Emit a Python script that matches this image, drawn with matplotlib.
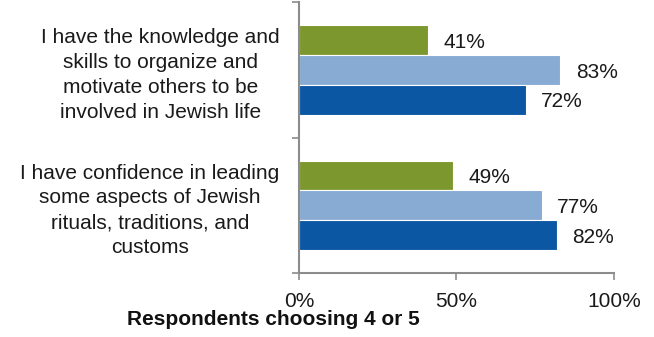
import matplotlib
matplotlib.use("Agg")
import matplotlib.pyplot as plt
import numpy as np

plt.rcParams['font.family'] = ['Liberation Sans', 'DejaVu Sans']

categories = [
    "I have the knowledge and\nskills to organize and\nmotivate others to be\ninvolved in Jewish life",
    "I have confidence in leading\nsome aspects of Jewish\nrituals, traditions, and\ncustoms",
]
series_green = [41, 49]
series_light = [83, 77]
series_dark = [72, 82]
x_ticks = [0, 50, 100]
x_tick_labels = ["0%", "50%", "100%"]
x_title = "Respondents choosing 4 or 5"

colors = ["#7C972D", "#88ABD3", "#0C57A4"]
spine_color = "#8C8C8C"

fig = plt.figure(figsize=(6.54, 3.37), dpi=100)
ax = fig.add_axes([0.4572, 0.190, 0.4816, 0.8026])

bar_h = 0.22
centers = np.arange(len(categories)) + 0.5
offsets = [-bar_h, 0.0, bar_h]
for vals, col, off in zip([series_green, series_light, series_dark], colors, offsets):
    bars = ax.barh(centers + off, vals, height=bar_h, color=col,
                   edgecolor="white", linewidth=0.8)
    for b, v in zip(bars, vals):
        ax.annotate(f"{v}%", (b.get_width(), b.get_y() + b.get_height() / 2),
                    xytext=(11, -1.5), textcoords="offset points",
                    ha="left", va="center", fontsize=15, color="#1a1a1a")

ax.set_xlim(0, 100)
ax.set_ylim(len(categories), 0)

ax.set_xticks(x_ticks)
ax.set_xticklabels(x_tick_labels, fontsize=15, color="#1a1a1a")
ax.set_yticks(np.arange(len(categories) + 1))
ax.set_yticklabels([])
ax.set_yticks(centers, minor=True)
ax.set_yticklabels(categories, minor=True, fontsize=15, color="#1a1a1a",
                   multialignment="center", linespacing=1.38)

ax.tick_params(axis="x", which="major", length=5, width=1.2, color=spine_color, pad=8.5)
ax.tick_params(axis="y", which="major", length=5, width=1.2, color=spine_color)
ax.tick_params(axis="y", which="minor", length=0, pad=14)

for side in ["top", "right"]:
    ax.spines[side].set_visible(False)
for side in ["left", "bottom"]:
    ax.spines[side].set_color(spine_color)
    ax.spines[side].set_linewidth(1.5)

fig.text(0.418, 0.036, x_title, ha="center", va="baseline",
         fontsize=15, fontweight="bold", color="#111111")

fig.savefig("out.png", dpi=100)
